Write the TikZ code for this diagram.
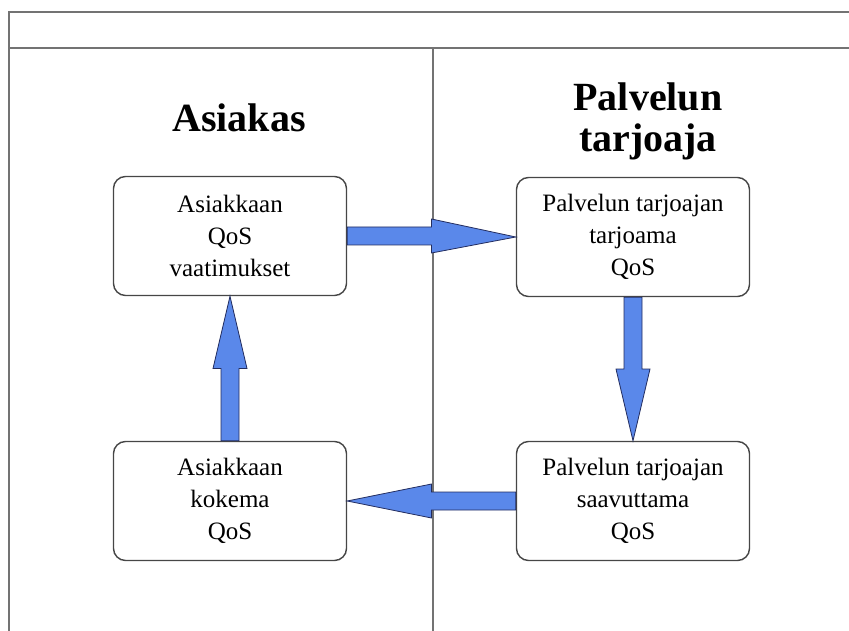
\documentclass[tikz,border=0pt]{standalone}
\usepackage{fontspec}
\setmainfont{Liberation Serif}
\usetikzlibrary{calc}

\definecolor{framegray}{RGB}{115,115,115}
\definecolor{boxgray}{RGB}{70,70,70}
\definecolor{arrowblue}{RGB}{90,136,234}
\definecolor{arrowline}{RGB}{35,45,95}

\tikzset{
  qosbox/.style={draw=boxgray, line width=1.4pt, rounded corners=12pt, fill=white,
    minimum width=233pt, minimum height=119pt, align=center, inner sep=0pt,
    font=\fontsize{25}{32}\selectfont},
  header/.style={align=center, font=\fontsize{40}{41}\selectfont\bfseries},
  blockarrow/.style={fill=arrowblue, draw=arrowline, line width=0.8pt, line join=miter},
  frameline/.style={draw=framegray, line width=2pt}
}

% horizontal block arrow: tail anchor, tip anchor
\newcommand{\harrow}[2]{%
  \draw[blockarrow] let \p1=(#1), \p2=(#2), \n1={(\x1+\x2)/2} in
    (\x1,\y1+9pt) -- (\n1,\y1+9pt) -- (\n1,\y1+17pt) -- (\x2,\y2)
    -- (\n1,\y1-17pt) -- (\n1,\y1-9pt) -- (\x1,\y1-9pt) -- cycle;}
% vertical block arrow: tail anchor, tip anchor
\newcommand{\varrow}[2]{%
  \draw[blockarrow] let \p1=(#1), \p2=(#2), \n1={(\y1+\y2)/2} in
    (\x1+9pt,\y1) -- (\x1+9pt,\n1) -- (\x1+17pt,\n1) -- (\x2,\y2)
    -- (\x1-17pt,\n1) -- (\x1-9pt,\n1) -- (\x1-9pt,\y1) -- cycle;}

\begin{document}
\begin{tikzpicture}[x=1pt,y=-1pt]
  \useasboundingbox (0,0) rectangle (849,631);

  % frame
  \draw[frameline] (849,12) -- (9,12) -- (9,631);
  \draw[frameline] (9,48) -- (849,48);
  \draw[frameline] (433,48) -- (433,631);

  % headers
  \node[header] (asiakas) at (239,118) {Asiakas};
  \node[header] (tarjoaja) at (648,121) {Palvelun\\tarjoaja};

  % boxes
  \node[qosbox] (vaatimukset) at (230,236) {Asiakkaan\\QoS\\vaatimukset};
  \node[qosbox] (tarjoama) at (633,237) {Palvelun tarjoajan\\tarjoama\\QoS};
  \node[qosbox] (kokema) at (230,501) {Asiakkaan\\kokema\\QoS};
  \node[qosbox] (saavuttama) at (633,501) {Palvelun tarjoajan\\saavuttama\\QoS};

  % arrows
  \harrow{vaatimukset.east}{tarjoama.west}
  \varrow{tarjoama.south}{saavuttama.north}
  \harrow{saavuttama.west}{kokema.east}
  \varrow{kokema.north}{vaatimukset.south}
\end{tikzpicture}
\end{document}
